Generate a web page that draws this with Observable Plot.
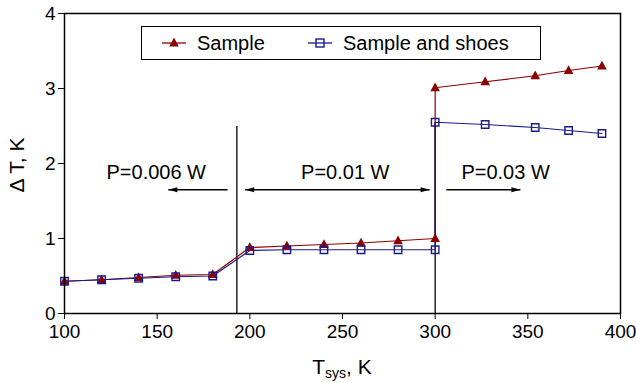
<!DOCTYPE html>
<html><head><meta charset="utf-8">
<script src="https://cdn.jsdelivr.net/npm/d3@7"></script>
<script src="https://cdn.jsdelivr.net/npm/@observablehq/plot@0.6"></script>
<style>
body{margin:0;background:#fff;font-family:"Liberation Sans",Arial,sans-serif;}
#wrap{position:relative;width:636px;height:383px;overflow:hidden;}
#wrap > svg{position:absolute;left:0;top:0;}
.lbl{position:absolute;color:#000;white-space:nowrap;}
#xlab{left:0;width:684px;text-align:center;top:356px;font-size:21px;line-height:21px;}
#xlab sub{font-size:14px;vertical-align:-4px;line-height:0;}
#ylab{left:17px;top:165px;font-size:21px;transform:translate(-50%,-50%) rotate(-90deg);}
#legend{position:absolute;left:141px;top:26px;width:398px;height:32px;border:1.5px solid #000;background:#fff;}
.li{position:absolute;top:0;height:32px;display:flex;align-items:center;font-size:20px;}
.li svg{display:block;margin-right:11px;}
</style></head><body>
<div id="wrap"></div>
<script>
// ---- data ----
const tempsLow = [100, 120, 140, 160, 180, 200, 220, 240, 260, 280, 300];
const sampleLow = [0.43, 0.45, 0.48, 0.51, 0.52, 0.88, 0.90, 0.92, 0.94, 0.97, 1.00];
const shoesLow  = [0.43, 0.45, 0.47, 0.49, 0.50, 0.84, 0.85, 0.85, 0.85, 0.85, 0.85];
const tempsHigh = [300, 327, 354, 372, 390];
const sampleHigh = [3.01, 3.09, 3.17, 3.24, 3.30];
const shoesHigh  = [2.55, 2.52, 2.48, 2.44, 2.40];
const seriesNames = ["Sample", "Sample and shoes"];
const xTicks = [100, 150, 200, 250, 300, 350, 400];
const yTicks = [0, 1, 2, 3, 4];
const dividerX = [193, 300];
const dividerTop = [2.5, 2.55];
const powerLabels = ["P=0.006 W", "P=0.01 W", "P=0.03 W"];
const powerLabelX = [149.5, 251.5, 338];
const powerLabelY = 1.88;
const arrowFrom = [188, 197.5, 306];
const arrowTo   = [156, 297, 346];
const arrowY = 1.65;

const RED = "#8b0000", BLUE = "#1a1a8c";

const sampleAll = [...tempsLow.map((t,i)=>({t, v: sampleLow[i]})), ...tempsHigh.map((t,i)=>({t, v: sampleHigh[i]}))];
const shoesAll  = [...tempsLow.map((t,i)=>({t, v: shoesLow[i]})), ...tempsHigh.map((t,i)=>({t, v: shoesHigh[i]}))];
const dividers = dividerX.map((x,i)=>({x, y1: 0, y2: dividerTop[i]}));
const arrows = arrowFrom.map((a,i)=>({x1: a, x2: arrowTo[i]}));
const heads = [
  {x: arrowTo[0], dir: "L"},
  {x: arrowFrom[1], dir: "L"},
  {x: arrowTo[1], dir: "R"},
  {x: arrowTo[2], dir: "R"}
];
const labels = powerLabels.map((s,i)=>({s, x: powerLabelX[i]}));

const headR = {draw(ctx){ ctx.moveTo(0,0); ctx.lineTo(-9,-2.6); ctx.lineTo(-9,2.6); ctx.closePath(); }};
const headL = {draw(ctx){ ctx.moveTo(0,0); ctx.lineTo(9,-2.6); ctx.lineTo(9,2.6); ctx.closePath(); }};
const tri = {draw(ctx){ ctx.moveTo(0,-5.2); ctx.lineTo(4.8,3.6); ctx.lineTo(-4.8,3.6); ctx.closePath(); }};

const plot = Plot.plot({
  width: 636, height: 383,
  marginLeft: 64, marginRight: 16, marginTop: 13, marginBottom: 70,
  style: {fontFamily: '"Liberation Sans", Arial, sans-serif', fontSize: "19px", color: "#000", background: "transparent"},
  x: {domain: [100, 400], ticks: xTicks},
  y: {domain: [0, 4], ticks: yTicks},
  marks: [
    Plot.axisX({ticks: xTicks, tickSize: 6, tickPadding: 5, label: null, fontSize: 19, tickFormat: d3.format("d")}),
    Plot.axisY({ticks: yTicks, tickSize: 6, tickPadding: 3, label: null, fontSize: 19, tickFormat: d3.format("d")}),
    Plot.link(dividers, {x1: "x", x2: "x", y1: "y1", y2: "y2", stroke: "#000", strokeWidth: 1.3}),
    Plot.link(arrows, {x1: "x1", x2: "x2", y1: () => arrowY, y2: () => arrowY, stroke: "#000", strokeWidth: 1.3}),
    Plot.dot(heads.filter(d=>d.dir==="R"), {x: "x", y: () => arrowY, symbol: headR, fill: "#000", stroke: "none", r: 3}),
    Plot.dot(heads.filter(d=>d.dir==="L"), {x: "x", y: () => arrowY, symbol: headL, fill: "#000", stroke: "none", r: 3}),
    Plot.text(labels, {x: "x", y: () => powerLabelY, text: "s", fontSize: 20, fill: "#000"}),
    Plot.line(sampleAll, {x: "t", y: "v", stroke: RED, strokeWidth: 1.2}),
    Plot.line(shoesAll, {x: "t", y: "v", stroke: BLUE, strokeWidth: 1.2}),
    Plot.dot(sampleAll, {x: "t", y: "v", symbol: tri, fill: RED, stroke: "none", r: 4}),
    Plot.dot(shoesAll, {x: "t", y: "v", symbol: "square", fill: "none", stroke: BLUE, strokeWidth: 1.4, r: 4.2}),
    Plot.frame({stroke: "#000", strokeWidth: 1.5})
  ]
});

const wrap = document.getElementById("wrap");
wrap.appendChild(plot);

const xl = document.createElement("div");
xl.className = "lbl"; xl.id = "xlab";
xl.innerHTML = "T<sub>sys</sub>, K";
wrap.appendChild(xl);
const yl = document.createElement("div");
yl.className = "lbl"; yl.id = "ylab";
yl.textContent = "\u0394 T, K";
wrap.appendChild(yl);

const lg = document.createElement("div");
lg.id = "legend";
lg.innerHTML =
  `<div class="li" style="left:20px"><svg width="24" height="14"><line x1="0" y1="7" x2="24" y2="7" stroke="${RED}" stroke-width="1.3"/><path d="M12,1.6 L16.8,10.4 L7.2,10.4 Z" fill="${RED}"/></svg>${seriesNames[0]}</div>` +
  `<div class="li" style="left:166px"><svg width="24" height="14"><line x1="0" y1="7" x2="24" y2="7" stroke="${BLUE}" stroke-width="1.3"/><rect x="8" y="3" width="8" height="8" fill="none" stroke="${BLUE}" stroke-width="1.4"/></svg>${seriesNames[1]}</div>`;
wrap.appendChild(lg);
</script>
</body></html>
